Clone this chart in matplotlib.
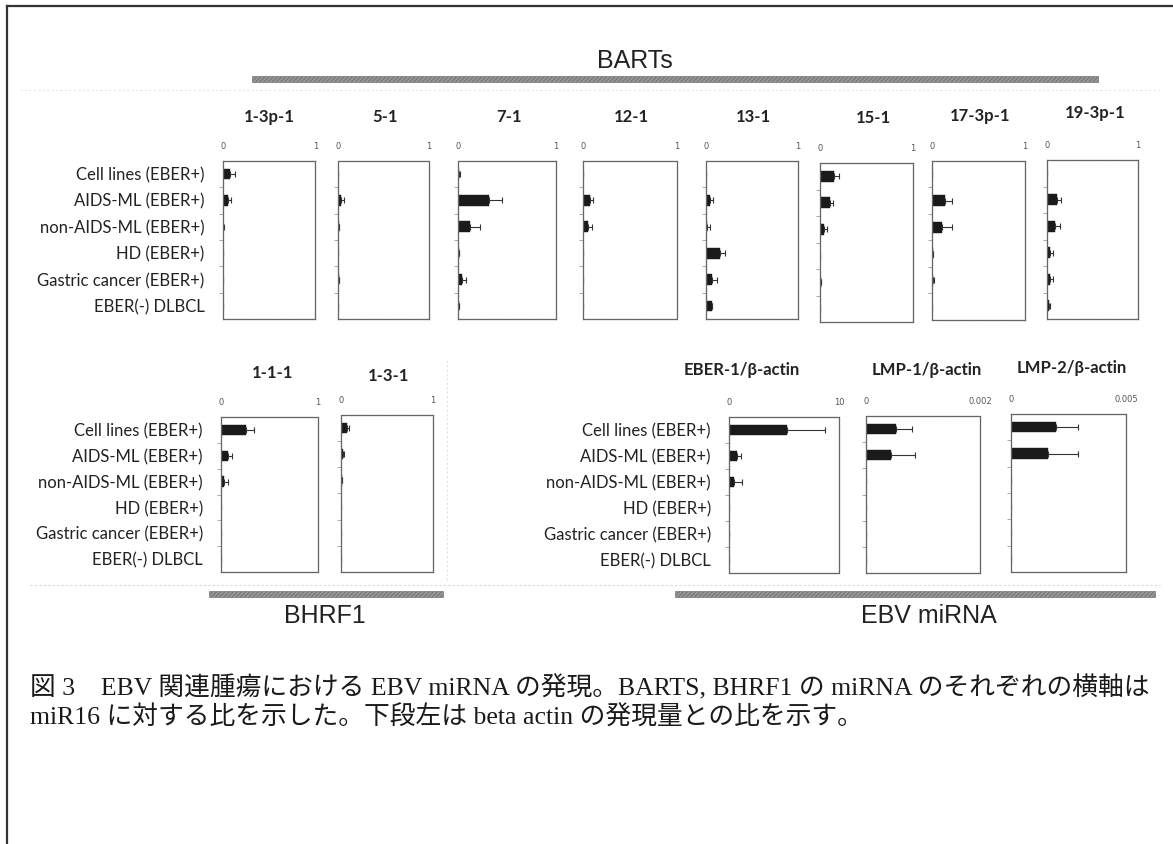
import matplotlib
matplotlib.use("Agg")
import matplotlib.pyplot as plt
from matplotlib.lines import Line2D
from matplotlib.patches import Rectangle
import numpy as np

W, H = 1173, 844

categories = ["Cell lines (EBER+)", "AIDS-ML (EBER+)", "non-AIDS-ML (EBER+)",
              "HD (EBER+)", "Gastric cancer (EBER+)", "EBER(-) DLBCL"]

# BARTs miRNAs (ratio to miR16)
bart_names = ["1-3p-1", "5-1", "7-1", "12-1", "13-1", "15-1", "17-3p-1", "19-3p-1"]
bart_1_3p_1 = [0.08, 0.055, 0.008, 0.003, 0.003, 0.0]
bart_1_3p_1_err = [0.05, 0.035, 0.01, 0.0, 0.0, 0.0]
bart_5_1 = [0.005, 0.035, 0.006, 0.002, 0.006, 0.0]
bart_5_1_err = [0.0, 0.035, 0.004, 0.0, 0.004, 0.0]
bart_7_1 = [0.012, 0.32, 0.12, 0.01, 0.045, 0.008]
bart_7_1_err = [0.005, 0.13, 0.10, 0.005, 0.04, 0.003]
bart_12_1 = [0.005, 0.07, 0.05, 0.005, 0.005, 0.005]
bart_12_1_err = [0.0, 0.036, 0.046, 0.0, 0.0, 0.0]
bart_13_1 = [0.0, 0.04, 0.01, 0.155, 0.065, 0.065]
bart_13_1_err = [0.0, 0.036, 0.037, 0.055, 0.055, 0.005]
bart_15_1 = [0.15, 0.107, 0.04, 0.005, 0.01, 0.0]
bart_15_1_err = [0.055, 0.033, 0.035, 0.0, 0.0, 0.0]
bart_17_3p_1 = [0.003, 0.136, 0.11, 0.01, 0.01, 0.0]
bart_17_3p_1_err = [0.0, 0.08, 0.105, 0.003, 0.015, 0.0]
bart_19_3p_1 = [0.0, 0.11, 0.084, 0.037, 0.037, 0.02]
bart_19_3p_1_err = [0.0, 0.047, 0.063, 0.033, 0.033, 0.012]

# BHRF1 miRNAs
bhrf_names = ["1-1-1", "1-3-1"]
bhrf_1_1_1 = [0.26, 0.075, 0.03, 0.005, 0.005, 0.005]
bhrf_1_1_1_err = [0.08, 0.035, 0.038, 0.0, 0.0, 0.0]
bhrf_1_3_1 = [0.062, 0.025, 0.008, 0.005, 0.005, 0.005]
bhrf_1_3_1_err = [0.025, 0.005, 0.0, 0.0, 0.0, 0.0]

# ratios to beta-actin
gene_names = ["EBER-1/β-actin", "LMP-1/β-actin", "LMP-2/β-actin"]
gene_xmax = [10, 0.002, 0.005]
gene_xmax_labels = ["10", "0.002", "0.005"]
eber1 = [5.27, 0.76, 0.42, 0.01, 0.03, 0.0]
eber1_err = [3.43, 0.30, 0.79, 0.0, 0.0, 0.0]
lmp1 = [0.00053, 0.00044, 0.000005, 0.000005, 0.000005, 0.000005]
lmp1_err = [0.00027, 0.00042, 0.0, 0.0, 0.0, 0.0]
lmp2 = [0.00195, 0.0016, 0.00001, 0.00001, 0.00001, 0.00001]
lmp2_err = [0.00098, 0.00132, 0.0, 0.0, 0.0, 0.0]

fig = plt.figure(figsize=(W / 100, H / 100), dpi=100)
fig.patch.set_facecolor("white")


def rect(x0, y0, x1, y1):
    return [x0 / W, 1 - y1 / H, (x1 - x0) / W, (y1 - y0) / H]


def fx(x):
    return x / W


def fy(y):
    return 1 - y / H


LABEL_FONT = "Lato"


def panel(box, title, title_xy, means, errs, xmax, xmax_label, show_labels=False):
    ax = fig.add_axes(rect(*box))
    y = np.arange(len(categories))
    ax.barh(y, means, height=0.4, color="#1a1a1a", edgecolor="#1a1a1a", linewidth=0.3)
    ax.errorbar(means, y, xerr=[np.zeros(len(errs)), errs], fmt="none",
                ecolor="#333333", elinewidth=0.8, capsize=2, capthick=0.8)
    ax.set_xlim(0, xmax)
    ax.set_ylim(len(categories) - 0.5, -0.5)
    ax.xaxis.tick_top()
    ax.set_xticks([0, xmax])
    ax.set_xticklabels(["0", xmax_label], fontsize=6, color="#555555", family="DejaVu Sans")
    ax.tick_params(axis="x", length=0, pad=7)
    ax.set_yticks(y)
    ax.set_yticks(np.arange(0.5, len(categories) - 0.5, 1.0), minor=True)
    ax.tick_params(axis="y", which="major", length=0, pad=13)
    ax.tick_params(axis="y", which="minor", length=3, width=0.6, color="#999999")
    if show_labels:
        ax.set_yticklabels(categories, fontsize=12, family=LABEL_FONT, color="#222222")
    else:
        ax.set_yticklabels([])
    for s in ax.spines.values():
        s.set_color("#666666")
        s.set_linewidth(0.9)
        s.set_linestyle((0, (1.5, 0.6)))
    fig.text(fx(title_xy[0]), fy(title_xy[1]), title, ha="center", va="center",
             fontsize=12, fontweight="bold", family=LABEL_FONT, color="#222222")
    return ax


top_boxes = [(222.7, 160.7, 315.3, 319.3), (338, 160.7, 429, 319.3),
             (458, 160.7, 556, 319.3), (583, 160.7, 677, 319.3),
             (706, 160.7, 798, 319.3), (820, 163, 913, 322),
             (932, 161, 1025, 320), (1047, 160, 1138, 319)]
top_titles = [(269, 117), (385, 117), (509, 117), (631, 117), (753, 117),
              (873, 118), (980, 116), (1095, 113)]
bart_data = [(bart_1_3p_1, bart_1_3p_1_err), (bart_5_1, bart_5_1_err),
             (bart_7_1, bart_7_1_err), (bart_12_1, bart_12_1_err),
             (bart_13_1, bart_13_1_err), (bart_15_1, bart_15_1_err),
             (bart_17_3p_1, bart_17_3p_1_err), (bart_19_3p_1, bart_19_3p_1_err)]
for i, (name, box, tt, (m, e)) in enumerate(zip(bart_names, top_boxes, top_titles, bart_data)):
    panel(box, name, tt, m, e, 1, "1", show_labels=(i == 0))

bh_boxes = [(221, 417, 318, 572), (341, 415, 433, 572)]
bh_titles = [(273, 373), (389, 376)]
bh_data = [(bhrf_1_1_1, bhrf_1_1_1_err), (bhrf_1_3_1, bhrf_1_3_1_err)]
for i, (name, box, tt, (m, e)) in enumerate(zip(bhrf_names, bh_boxes, bh_titles, bh_data)):
    panel(box, name, tt, m, e, 1, "1", show_labels=(i == 0))

g_boxes = [(729, 417, 839, 573), (866, 416, 980, 573), (1011, 414, 1126, 572)]
g_titles = [(742, 370), (927, 370), (1072, 368)]
g_data = [(eber1, eber1_err), (lmp1, lmp1_err), (lmp2, lmp2_err)]
for i, (name, box, tt, (m, e), xm, xl) in enumerate(zip(gene_names, g_boxes, g_titles, g_data,
                                                        gene_xmax, gene_xmax_labels)):
    panel(box, name, tt, m, e, xm, xl, show_labels=(i == 0))

# group bars and labels
bar_color = "#9a9a9a"
for (x0, x1, yy) in [(252, 1098, 79), (209, 443, 594), (675, 1155, 594)]:
    fig.add_artist(Rectangle((fx(x0), fy(yy + 3)), fx(x1) - fx(x0), 6 / H,
                             transform=fig.transFigure, facecolor=bar_color,
                             edgecolor="#7a7a7a", linewidth=0.5, hatch="////////"))
fig.text(fx(635), fy(61), "BARTs", ha="center", va="center", fontsize=18,
         family="Liberation Sans", color="#222222")
fig.text(fx(325), fy(616), "BHRF1", ha="center", va="center", fontsize=18,
         family="Liberation Sans", color="#222222")
fig.text(fx(929), fy(616), "EBV miRNA", ha="center", va="center", fontsize=18,
         family="Liberation Sans", color="#222222")

# faint scan lines
fig.add_artist(Line2D([fx(30), fx(1160)], [fy(585), fy(585)], color="#d8d8d8",
                      linewidth=0.8, linestyle=(0, (2, 2))))
fig.add_artist(Line2D([fx(447), fx(447)], [fy(360), fy(580)], color="#e2e2e2",
                      linewidth=0.8, linestyle=(0, (2, 2))))
fig.add_artist(Line2D([fx(20), fx(1160)], [fy(90), fy(90)], color="#e6e6e6",
                      linewidth=0.8, linestyle=(0, (2, 2))))

# outer frame (left and top)
fig.add_artist(Line2D([fx(7), fx(7)], [fy(6), fy(844)], color="#333333", linewidth=1.6))
fig.add_artist(Line2D([fx(7), fx(1173)], [fy(6), fy(6)], color="#333333", linewidth=1.6))

# caption
cap_family = ["Liberation Serif", "Noto Sans CJK JP"]
line1 = "図 3　EBV 関連腫瘍における EBV miRNA の発現。BARTS, BHRF1 の miRNA のそれぞれの横軸は"
line2 = "miR16 に対する比を示した。下段左は beta actin の発現量との比を示す。"
t1 = fig.text(fx(30), fy(688), line1, ha="left", va="center", fontsize=15,
              family=cap_family, color="#1a1a1a")
t2 = fig.text(fx(30), fy(718), line2, ha="left", va="center", fontsize=15,
              family=cap_family, color="#1a1a1a")
fig.canvas.draw()
w1 = t1.get_window_extent().width
fs = 15 * (1122 / w1)
t1.set_fontsize(fs)
t2.set_fontsize(fs)

fig.savefig("out.png", dpi=100, facecolor="white")
